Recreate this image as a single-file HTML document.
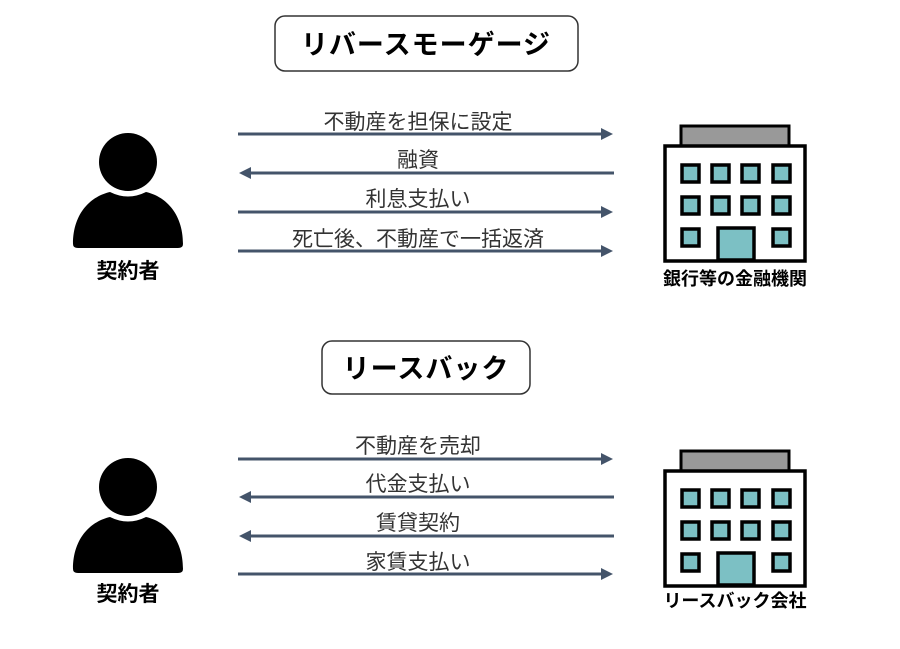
<!DOCTYPE html>
<html><head><meta charset="utf-8"><style>
html,body{margin:0;padding:0;background:#fff;}
svg text{font-family:"Liberation Sans","Noto Sans CJK JP",sans-serif;}
</style></head><body>
<svg width="900" height="644" viewBox="0 0 900 644" xmlns="http://www.w3.org/2000/svg">
<defs>
<marker id="ah" markerWidth="4" markerHeight="4" refX="3" refY="2" orient="auto" markerUnits="strokeWidth">
<path d="M0,0 L4,2 L0,4 Z" fill="#44546a"/></marker>
<g id="person">
<circle cx="128" cy="162" r="29" fill="#000"/>
<path d="M73,244 C73,212 92,196 110,192 Q128,201 146,192 C164,196 183,212 183,244 Q183,248 178,248 L78,248 Q73,248 73,244 Z" fill="#000"/>
</g>
<g id="bld">
<rect x="681" y="126" width="108" height="20" fill="#999" stroke="#000" stroke-width="3"/>
<rect x="665" y="146" width="140" height="115" fill="#fff" stroke="#000" stroke-width="3.5"/>
<g fill="#7cc0c4" stroke="#000" stroke-width="3.5">
<rect x="682" y="165" width="17" height="17"/><rect x="712" y="165" width="17" height="17"/><rect x="742" y="165" width="17" height="17"/><rect x="773" y="165" width="17" height="17"/>
<rect x="682" y="197" width="17" height="17"/><rect x="712" y="197" width="17" height="17"/><rect x="742" y="197" width="17" height="17"/><rect x="773" y="197" width="17" height="17"/>
<rect x="682" y="229" width="17" height="17"/><rect x="773" y="229" width="17" height="17"/>
<rect x="718" y="228" width="36" height="32"/>
</g>
</g>
</defs>

<rect x="275" y="16" width="303" height="55" rx="10" fill="#fff" stroke="#333" stroke-width="1.5"/>
<text x="426" y="54" font-size="27" font-weight="bold" text-anchor="middle" letter-spacing="1">リバースモーゲージ</text>

<g stroke="#44546a" stroke-width="3" fill="none">
<line x1="238" y1="134" x2="610" y2="134" marker-end="url(#ah)"/>
<line x1="614" y1="173" x2="242" y2="173" marker-end="url(#ah)"/>
<line x1="238" y1="212" x2="610" y2="212" marker-end="url(#ah)"/>
<line x1="238" y1="251" x2="610" y2="251" marker-end="url(#ah)"/>
<line x1="238" y1="459" x2="610" y2="459" marker-end="url(#ah)"/>
<line x1="614" y1="497" x2="242" y2="497" marker-end="url(#ah)"/>
<line x1="614" y1="536" x2="242" y2="536" marker-end="url(#ah)"/>
<line x1="238" y1="574" x2="610" y2="574" marker-end="url(#ah)"/>
</g>
<g font-size="21" text-anchor="middle" fill="#333">
<text x="418" y="129">不動産を担保に設定</text>
<text x="418" y="167">融資</text>
<text x="418" y="206">利息支払い</text>
<text x="418" y="246">死亡後、不動産で一括返済</text>
<text x="418" y="453">不動産を売却</text>
<text x="418" y="491">代金支払い</text>
<text x="418" y="530">賃貸契約</text>
<text x="418" y="569">家賃支払い</text>
</g>

<use href="#person"/>
<use href="#person" transform="translate(0,325)"/>
<text x="128" y="278" font-size="21" font-weight="bold" text-anchor="middle">契約者</text>
<text x="128" y="601" font-size="21" font-weight="bold" text-anchor="middle">契約者</text>

<use href="#bld"/>
<use href="#bld" transform="translate(0,325)"/>
<text x="735" y="285" font-size="18" font-weight="bold" text-anchor="middle">銀行等の金融機関</text>
<text x="735" y="607" font-size="18" font-weight="bold" text-anchor="middle">リースバック会社</text>

<rect x="322" y="341" width="208" height="53" rx="10" fill="#fff" stroke="#333" stroke-width="1.5"/>
<text x="426" y="378" font-size="27" font-weight="bold" text-anchor="middle" letter-spacing="1">リースバック</text>
</svg>
</body></html>
